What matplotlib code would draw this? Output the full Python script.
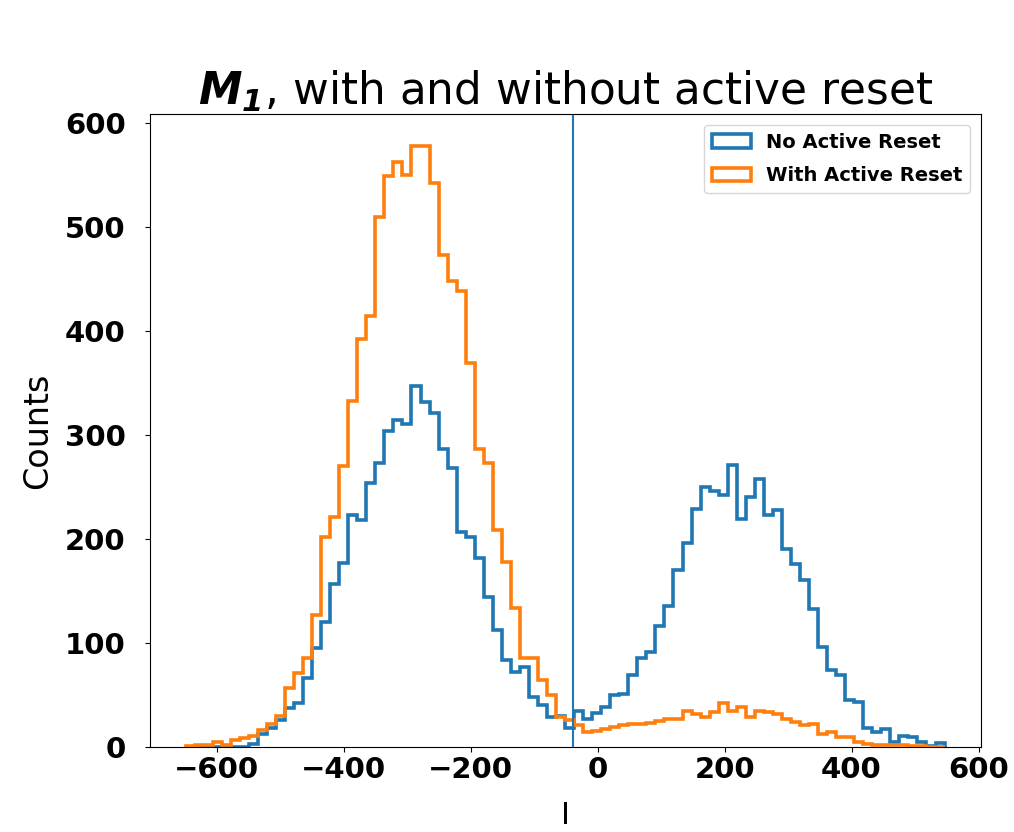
import numpy as np
import matplotlib
matplotlib.use('Agg')
import matplotlib.pyplot as plt

# shared binning of the I quadrature for both runs
i_min = -649.0
i_max = 546.5
n_bins = 84

counts_no_reset = [0, 0, 0, 0, 0, 0, 0, 3, 12, 18,
                   26, 37, 42, 66, 95, 120, 156, 177, 223, 218,
                   254, 273, 304, 314, 310, 347, 331, 321, 286, 268,
                   206, 202, 181, 144, 112, 83, 72, 77, 48, 40,
                   29, 30, 18, 34, 27, 32, 38, 50, 51, 69,
                   85, 91, 116, 135, 170, 196, 229, 250, 246, 242,
                   271, 219, 240, 257, 223, 228, 190, 176, 160, 132,
                   96, 74, 69, 45, 43, 18, 14, 17, 5, 10,
                   9, 5, 1, 4]

counts_with_reset = [1, 2, 2, 5, 2, 6, 8, 10, 16, 22,
                     30, 56, 71, 85, 127, 202, 221, 270, 332, 392,
                     414, 509, 549, 562, 550, 578, 578, 542, 473, 448,
                     438, 369, 286, 273, 208, 178, 133, 85, 85, 64,
                     50, 29, 26, 21, 14, 15, 17, 19, 21, 22,
                     22, 23, 25, 27, 27, 34, 31, 29, 33, 42,
                     34, 38, 29, 34, 33, 31, 27, 24, 21, 22,
                     12, 14, 9, 9, 5, 3, 2, 2, 2, 2,
                     1, 1, 0, 0]

threshold = -38.0

edges = np.linspace(i_min, i_max, n_bins + 1)
centers = 0.5 * (edges[:-1] + edges[1:])

fig = plt.figure(figsize=(10.14, 8.32), dpi=100)
ax = fig.add_axes([0.148, 0.1025, 0.8195, 0.7601])

ax.hist(centers, bins=edges, weights=counts_no_reset, histtype='step',
        linewidth=2.6, color='tab:blue', label='No Active Reset')
ax.hist(centers, bins=edges, weights=counts_with_reset, histtype='step',
        linewidth=2.6, color='tab:orange', label='With Active Reset')
ax.axvline(threshold, color='tab:blue', linewidth=1.5)

ax.set_xlim(-705, 604)
ax.set_ylim(0, 608)
ax.set_xticks([-600, -400, -200, 0, 200, 400, 600])
ax.set_yticks([0, 100, 200, 300, 400, 500, 600])
ax.tick_params(labelsize=21)
ax.tick_params(axis='y', pad=14)
for lab in ax.get_xticklabels() + ax.get_yticklabels():
    lab.set_fontweight('bold')

ax.set_xlabel('I', fontsize=22, labelpad=12)
ax.set_ylabel('Counts', fontsize=24, labelpad=8)
ax.set_title(r'$\mathbfit{M_1}$, with and without active reset', fontsize=31.5)
ax.legend(loc='upper right', prop={'weight': 'bold', 'size': 14},
          borderaxespad=0.55, labelspacing=0.75)

fig.savefig('out.png', dpi=100)
